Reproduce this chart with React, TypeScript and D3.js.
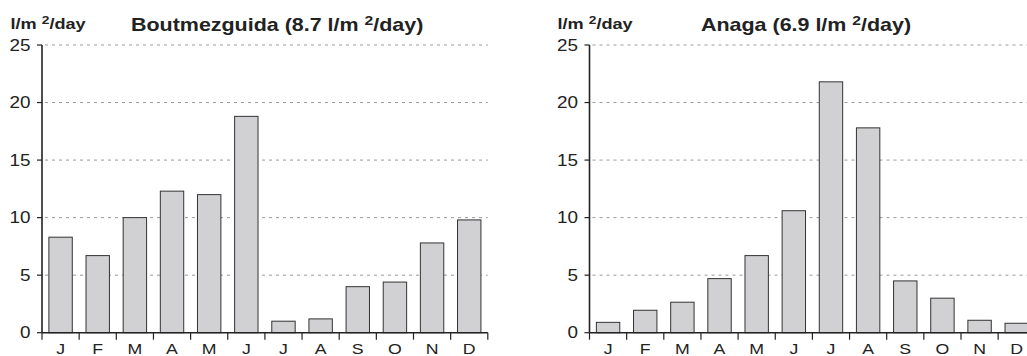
import React from "react";
import * as d3 from "d3";

const months = ["J", "F", "M", "A", "M", "J", "J", "A", "S", "O", "N", "D"];
const boutmezguida = [8.3, 6.7, 10.0, 12.3, 12.0, 18.8, 1.0, 1.2, 4.0, 4.4, 7.8, 9.8];
const anaga = [0.9, 1.95, 2.65, 4.7, 6.7, 10.6, 21.8, 17.8, 4.5, 3.0, 1.08, 0.82];
const yTicks = [0, 5, 10, 15, 20, 25];
const panels = [
  { name: "Boutmezguida", mean: "8.7", values: boutmezguida, x0: 42, unitX: 10.5, titleX: 131 },
  { name: "Anaga", mean: "6.9", values: anaga, x0: 589.5, unitX: 557.5, titleX: 701 },
];

const FONT = "'Liberation Sans', Arial, Helvetica, sans-serif";
const SX = 1.18;

function Panel({ p }: { p: typeof panels[number] }) {
  const bandW = 37.15;
  const x = d3
    .scaleBand<number>()
    .domain(d3.range(12))
    .range([p.x0, p.x0 + bandW * 12])
    .paddingInner(0.37)
    .paddingOuter(0.185);
  const y = d3.scaleLinear().domain([0, 25]).range([332.7, 45]);
  const xEnd = p.x0 + bandW * 12;
  const boundaries = d3.range(13).map((i) => p.x0 + i * bandW);
  return (
    <g>
      {yTicks
        .filter((t) => t > 0)
        .map((t) => (
          <line
            key={"g" + t}
            x1={p.x0 + 3}
            x2={xEnd}
            y1={y(t)}
            y2={y(t)}
            stroke="#9a9a9a"
            strokeWidth={1}
            strokeDasharray="3,4"
          />
        ))}
      {p.values.map((v, i) => (
        <rect
          key={i}
          x={x(i)}
          y={y(v)}
          width={x.bandwidth()}
          height={y(0) - y(v)}
          fill="#d1d1d3"
          stroke="#333"
          strokeWidth={1}
        />
      ))}
      <line x1={p.x0} x2={p.x0} y1={y(25)} y2={y(0)} stroke="#222" strokeWidth={1.6} />
      <line x1={p.x0} x2={xEnd} y1={y(0)} y2={y(0)} stroke="#222" strokeWidth={1.6} />
      {yTicks.map((t) => (
        <g key={"t" + t}>
          <line x1={p.x0 - 5} x2={p.x0} y1={y(t)} y2={y(t)} stroke="#222" strokeWidth={1.2} />
          <text
            transform={`translate(${p.x0 - 11.5},${y(t)}) scale(${SX},1)`}
            dy="0.36em"
            textAnchor="end"
            fontSize={16}
            fontFamily={FONT}
            fill="#222"
          >
            {t}
          </text>
        </g>
      ))}
      {boundaries.map((b, i) => (
        <line key={"b" + i} x1={b} x2={b} y1={y(0)} y2={y(0) + 7} stroke="#222" strokeWidth={1.2} />
      ))}
      {months.map((m, i) => (
        <text
          key={"m" + i}
          transform={`translate(${(x(i) as number) + x.bandwidth() / 2},354) scale(${SX},1)`}
          textAnchor="middle"
          fontSize={15}
          fontFamily={FONT}
          fill="#222"
        >
          {m}
        </text>
      ))}
      <text
        transform={`translate(${p.unitX},29) scale(1.25,1)`}
        fontSize={14.5}
        fontWeight="bold"
        fontFamily={FONT}
        fill="#222"
      >
        l/m{" "}
        <tspan fontSize={11} dy={-5}>
          2
        </tspan>
        <tspan dy={5}>/day</tspan>
      </text>
      <text
        transform={`translate(${p.titleX},30.5) scale(1.16,1)`}
        fontSize={18.5}
        fontWeight="bold"
        fontFamily={FONT}
        fill="#222"
      >
        {p.name} ({p.mean} l/m{" "}
        <tspan fontSize={13.5} dy={-6}>
          2
        </tspan>
        <tspan dy={6}>/day)</tspan>
      </text>
    </g>
  );
}

export default function App() {
  return (
    <svg
      width={1027}
      height={356}
      style={{ position: "absolute", left: 0, top: 0, background: "#fff" }}
    >
      <rect width={1027} height={356} fill="#fff" />
      {panels.map((p) => (
        <Panel key={p.name} p={p} />
      ))}
    </svg>
  );
}
